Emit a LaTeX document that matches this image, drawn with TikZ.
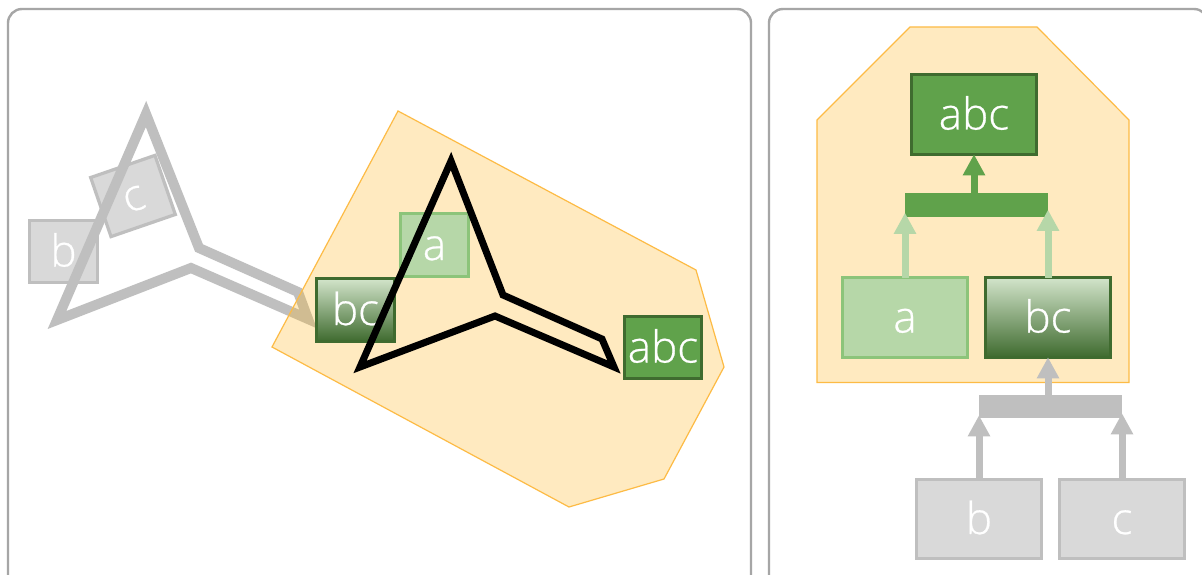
\documentclass[tikz,border=0pt]{standalone}
\usepackage{fontspec}
\setmainfont{Open Sans Light}
\usetikzlibrary{arrows.meta}
\definecolor{panelc}{HTML}{A6A6A6}
\definecolor{hullc}{RGB}{255,182,30}
\definecolor{hulledge}{HTML}{FDBB45}
\definecolor{gfill}{HTML}{D9D9D9}
\definecolor{gedge}{HTML}{BFBFBF}
\definecolor{lfill}{HTML}{B6D7A8}
\definecolor{ledge}{HTML}{8CC47A}
\definecolor{dfill}{HTML}{60A24B}
\definecolor{dedge}{HTML}{3F6B2F}
\definecolor{gradtop}{HTML}{D2E4CA}
\tikzset{
  panel/.style={draw=panelc,line width=2.4,rounded corners=14,fill=white},
  hull/.style={fill=hullc,fill opacity=.28,draw=hulledge,draw opacity=1,line width=1.2},
  box/.style={draw,line width=3.2,inner sep=0,outer sep=0,text=white,font=\fontsize{44}{50}\selectfont\addfontfeature{FakeBold=0.6},text height=30,text depth=0,anchor=center},
  graybox/.style={box,fill=gfill,draw=gedge},
  lightbox/.style={box,fill=lfill,draw=ledge},
  darkbox/.style={box,fill=dfill,draw=dedge},
  gradbox/.style={box,draw=dedge,top color=gradtop,bottom color=dedge,middle color=gradtop!50!dedge},
  big/.style={minimum width=124.5,minimum height=79.5},
  small/.style={minimum width=68,minimum height=62.5},
  wide/.style={minimum width=77.5,minimum height=62.5},
  hinge/.style={inner sep=0,outer sep=0,minimum width=143,minimum height=23.5},
  arr/.style={line width=7,-{Triangle[length=21,width=21]}},
  shape/.style={line width=#1,miter limit=10,line join=miter},
}
\begin{document}
\begin{tikzpicture}[x=1pt,y=-1pt]
\clip (0,0) rectangle (1202,575);
\fill[white] (0,0) rectangle (1202,575);
\draw[panel] (8,9) rectangle (751,600);
\draw[panel] (769,9) rectangle (1208,600);
% left panel: gray part
\node[graybox,small] (lb) at (63.5,251.5) {b};
\node[graybox,small,rotate=19] (lc) at (133,196) {c};
\draw[shape=10,draw=gedge] (146,114) -- (199,248) -- (298,292) -- (308,319) -- (191,268) -- (57,320) -- cycle;
% left hull
\path[hull] (398,111) -- (696,270) -- (724,367) -- (664,479) -- (569,507) -- (272,347) -- cycle;
\node[lightbox,small] (la) at (434.5,245) {a};
\node[gradbox,wide] (lbc) at (355.5,310) {bc};
\node[darkbox,wide,inner sep=0] (labc) at (663,347.5) {abc};
\draw[shape=7,draw=black] (451,161) -- (503,295) -- (602,339) -- (614,367) -- (495,316) -- (360,367) -- cycle;
% right panel
\path[hull] (910,27) -- (1037,27) -- (1129,120) -- (1129,382.5) -- (817,382.5) -- (817,120) -- cycle;
\node[darkbox,big] (rabc) at (974,114.5) {abc};
\node[lightbox,big] (ra) at (905,317.5) {a};
\node[gradbox,big] (rbc) at (1048,317.5) {bc};
\node[graybox,big] (rb) at (979,519) {b};
\node[graybox,big] (rc) at (1122,519) {c};
\node[hinge,fill=dfill] (hg) at (976.5,205) {};
\node[hinge,fill=gedge] (hb) at (1050.5,406.5) {};
\draw[arr,draw=lfill] (ra.north) -- ([yshift=4]hg.south west);
\draw[arr,draw=lfill] (rbc.north) -- ([yshift=7]hg.south east);
\draw[arr,draw=dfill] (hg.north -| rabc.south) -- (rabc.south);
\draw[arr,draw=gedge] (rb.north) -- ([yshift=3]hb.south west);
\draw[arr,draw=gedge] (rc.north) -- ([yshift=5]hb.south east);
\draw[arr,draw=gedge] (hb.north -| rbc.south) -- (rbc.south);
\end{tikzpicture}
\end{document}
